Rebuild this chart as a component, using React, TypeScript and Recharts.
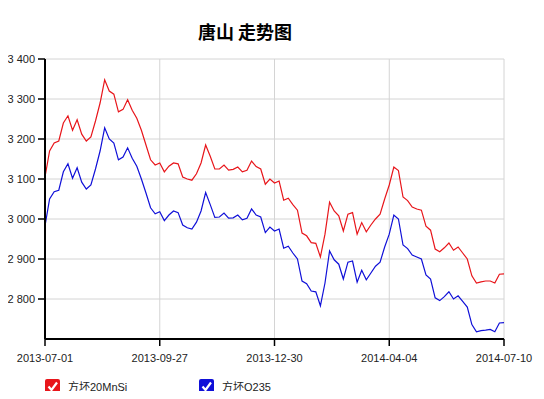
import { LineChart, Line, XAxis, YAxis, CartesianGrid } from 'recharts';

// x positions are sample indices 0..100; labelled ticks every 25 samples
const tickIdx = [0, 25, 50, 75, 100];
const tickLabels = ['2013-07-01', '2013-09-27', '2013-12-30', '2014-04-04', '2014-07-10'];
const yTicks = [2800, 2900, 3000, 3100, 3200, 3300, 3400];

const seriesNames = ['方坯20MnSi', '方坯Q235'];
const seriesColors = ['#e8161b', '#1010d8'];

const mnsi = [
  3105, 3170, 3190, 3195, 3240, 3258, 3222, 3248, 3212, 3195,
  3205, 3245, 3290, 3348, 3320, 3312, 3268, 3274, 3298, 3272,
  3252, 3222, 3185, 3148, 3135, 3140, 3118, 3132, 3140, 3138,
  3105, 3100, 3097, 3113, 3140, 3185, 3157, 3125, 3125, 3135,
  3122, 3124, 3130, 3118, 3122, 3145, 3131, 3125, 3087, 3100,
  3090, 3095, 3047, 3052, 3036, 3022, 2965, 2958, 2941, 2939,
  2905, 2962, 3042, 3020, 3008, 2970, 3012, 3016, 2962, 2991,
  2968, 2985, 3000, 3012, 3050, 3085, 3130, 3121, 3055, 3046,
  3030, 3025, 3022, 2982, 2972, 2925, 2918, 2928, 2940, 2922,
  2930, 2915, 2900, 2858, 2840, 2843, 2845, 2845, 2840, 2862,
  2863,
];

const q235 = [
  2983, 3050, 3068, 3072, 3118, 3138, 3102, 3128, 3092, 3075,
  3085, 3125, 3170, 3228, 3200, 3190, 3148, 3155, 3178, 3152,
  3132, 3100, 3065, 3028, 3013, 3018, 2996, 3010, 3020, 3016,
  2985, 2978, 2975, 2992, 3020, 3066, 3036, 3004, 3005, 3015,
  3002, 3003, 3010, 2998, 3002, 3025, 3010, 3005, 2966, 2980,
  2970, 2975, 2927, 2932, 2915, 2900, 2845, 2838, 2820, 2818,
  2783, 2840, 2920, 2898, 2887, 2850, 2892, 2895, 2842, 2872,
  2848, 2865, 2882, 2892, 2930, 2962, 3010, 3000, 2935, 2926,
  2910, 2905, 2900, 2860, 2850, 2803, 2796, 2806, 2818, 2800,
  2808, 2794, 2780, 2736, 2718, 2721, 2722, 2724, 2718, 2740,
  2741,
];

const data = mnsi.map((v, i) => ({ i, mnsi: v, q235: q235[i] }));

const fmtY = (v: number) => String(v).replace(/\B(?=(\d{3})+(?!\d))/g, ' ');
const fmtX = (v: number) => tickLabels[tickIdx.indexOf(v)] ?? '';

const font = '"Liberation Sans", Arial, "Noto Sans CJK SC", sans-serif';

function CheckBox({ color }: { color: string }) {
  return (
    <svg width={15} height={15} style={{ display: 'block' }}>
      <rect x={0} y={0} width={15} height={15} rx={2} fill={color} />
      <path d="M3.5 7.5 L6.5 11 L12 3.5" stroke="#fff" strokeWidth={2.2} fill="none" />
    </svg>
  );
}

export default function App() {
  return (
    <div style={{ position: 'relative', margin: -8, width: 544, height: 399, background: '#fff', fontFamily: font }}>
      <div
        style={{
          position: 'absolute',
          left: 145,
          width: 200,
          top: 20,
          textAlign: 'center',
          fontSize: 18,
          fontWeight: 'bold',
          color: '#000',
          fontFamily: '"Noto Sans CJK SC", sans-serif',
          lineHeight: '22px',
        }}
      >
        唐山 走势图
      </div>
      <LineChart width={544} height={399} data={data} margin={{ top: 59, right: 40, left: 0, bottom: 0 }}>
        <CartesianGrid stroke="#d4d4d4" strokeWidth={1} />
        <XAxis
          dataKey="i"
          type="number"
          domain={[0, 100]}
          ticks={tickIdx}
          tickFormatter={fmtX}
          height={60}
          axisLine={{ stroke: '#000', strokeWidth: 2 }}
          tickLine={{ stroke: '#000', strokeWidth: 1.5 }}
          tickSize={7}
          tickMargin={8}
          tick={{ fontSize: 11, fill: '#222', fontFamily: font }}
          interval={0}
        />
        <YAxis
          type="number"
          domain={[2700, 3400]}
          ticks={yTicks}
          tickFormatter={fmtY}
          width={45}
          axisLine={{ stroke: '#000', strokeWidth: 2 }}
          tickLine={{ stroke: '#000', strokeWidth: 1.5 }}
          tickSize={7}
          tickMargin={3}
          tick={{ fontSize: 11, fill: '#222', fontFamily: font }}
          interval={0}
          allowDataOverflow
        />
        <Line
          type="linear"
          dataKey="mnsi"
          name={seriesNames[0]}
          stroke={seriesColors[0]}
          strokeWidth={1.2}
          dot={false}
          isAnimationActive={false}
        />
        <Line
          type="linear"
          dataKey="q235"
          name={seriesNames[1]}
          stroke={seriesColors[1]}
          strokeWidth={1.2}
          dot={false}
          isAnimationActive={false}
        />
      </LineChart>
      {seriesNames.map((name, k) => (
        <div
          key={name}
          style={{
            position: 'absolute',
            left: k === 0 ? 45 : 199,
            top: 378,
            display: 'flex',
            alignItems: 'center',
            gap: 8,
            fontSize: 11,
            color: '#222',
            fontFamily: font,
          }}
        >
          <CheckBox color={seriesColors[k]} />
          <span style={{ textDecoration: 'underline' }}>{name}</span>
        </div>
      ))}
    </div>
  );
}
